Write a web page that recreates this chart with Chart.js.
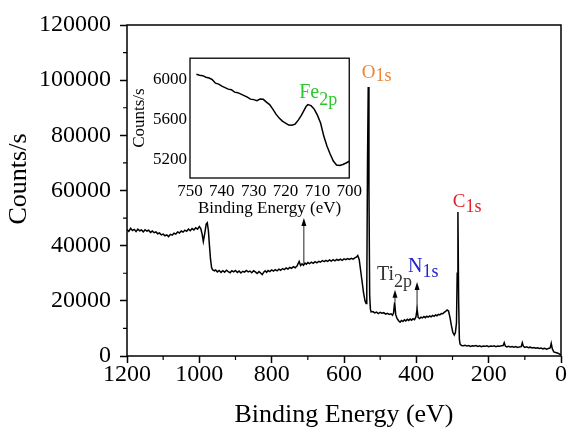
<!DOCTYPE html>
<html><head><meta charset="utf-8">
<script src="https://cdn.jsdelivr.net/npm/chart.js@4.4.1/dist/chart.umd.min.js"></script>
<style>
html,body{margin:0;padding:0;background:#fff;}
#wrap{position:relative;width:571px;height:431px;overflow:hidden;}
#main{position:absolute;left:0;top:0;}
#inset{position:absolute;left:120px;top:45px;}
</style></head>
<body>
<div id="wrap">
<canvas id="main" width="571" height="431"></canvas>
<canvas id="inset" width="245" height="180"></canvas>
</div>
<script>
// ---------- DATA ----------
const beMain = [1200,1195,1190,1185,1180,1175,1170,1165,1160,1155,1150,1145,1140,1135,1130,1125,1120,1115,1110,1105,1100,1095,1090,1085,1080,1075,1070,1065,1060,1055,1050,1045,1040,1035,1030,1025,1020,1015,1010,1005,1000,996,992,989,985,981,978,975,972,969,966,963,958,955,950,945,940,935,930,925,920,915,910,905,900,895,890,885,880,875,870,865,860,855,850,845,840,835,830,826,822,818,814,810,805,800,795,790,785,780,775,770,765,760,755,750,745,740,735,730,724,720,716,712,708,704,700,695,690,685,680,675,670,665,660,655,650,645,640,635,630,625,620,615,610,605,600,595,590,585,580,575,570,565,562,558,554,550,546,542,539,537,535,533,531,529,527,525,520,515,510,505,500,495,490,485,480,475,470,466,463,460,457,453,449,445,441,437,433,429,425,421,417,413,409,405,401,398,395,391,387,383,379,375,371,367,363,359,355,351,347,343,339,335,331,327,323,319,315,311,307,303,299,295,292,289,287,285,283,281,279,275,270,265,260,255,250,245,240,235,230,225,220,215,210,205,200,195,190,185,180,175,170,165,160,157,154,150,145,140,135,130,125,120,115,110,107,104,100,95,90,85,80,75,70,65,60,55,50,45,40,35,30,27,24,20,15,10,5,0];
const cpsMain = [45800,45200,46300,45500,45900,45100,46000,45400,45700,45000,45800,45300,45600,44800,45300,44700,45000,44300,44600,43900,44200,43600,43900,43300,44100,43800,44500,44200,45000,44600,45300,44900,45600,45200,46000,45400,46200,45700,46500,46000,46900,46200,44000,41500,44500,47800,48300,45500,40000,35000,32000,31200,30900,31200,30500,31000,30300,30900,30400,31100,30600,30200,30900,30500,31000,30300,30800,30100,30700,30400,31000,30500,30800,30200,30900,30500,29900,30600,30000,29500,30400,30900,30300,31000,30600,31200,30800,31300,30900,31500,31100,31700,31300,31900,31500,32100,31800,32400,32000,32600,34300,32800,33400,32900,33700,33300,33900,33500,34000,33600,34200,33800,34300,34000,34600,34200,34700,34300,34800,34400,34900,34500,35000,34700,35100,34700,35200,34900,35300,35000,35400,35100,35600,35900,36400,35000,31000,27000,23000,20000,19000,24000,70000,97500,60000,22000,17000,16000,16100,15600,15900,15400,15800,15500,15700,15200,15500,15100,15300,14800,15600,19500,15000,13500,12800,12300,12900,12500,13100,12700,13300,12900,13400,13000,13500,13200,14200,17000,14000,13600,14100,13800,14300,13900,14400,14100,14500,14200,14700,14400,14900,14600,15100,14900,15400,15300,15800,16200,16700,16300,14000,11000,8500,7600,8500,12000,30000,52200,20000,6000,4300,3800,3700,3900,3600,3800,3500,3700,3600,3800,3500,3700,3400,3600,3500,3700,3400,3600,3500,3700,3400,3600,3500,3700,3800,4800,3600,3300,3500,3300,3400,3200,3400,3100,3300,3400,4800,3500,3100,3300,3000,3200,2900,3100,2800,3000,2700,2900,2600,2800,2500,2700,2900,4600,2600,1500,1300,1100,800,400];

const beInset = [748,747,746,745,744,743,742,741,740,739,738,737,736,735,734,733,732,731,730,729,728,727,726,725,724,723,722,721,720,719,718,717,716,715,714,713.5,713,712,711,710,709,708,707,706,705,704,703,702,701,700];
const cpsInset = [6050,6040,6035,6020,6012,5995,5960,5950,5930,5915,5900,5895,5870,5865,5850,5835,5820,5800,5795,5785,5800,5798,5770,5745,5700,5650,5610,5580,5560,5540,5538,5550,5590,5640,5700,5730,5745,5735,5700,5640,5560,5430,5330,5250,5180,5140,5135,5145,5160,5178];

const xTicksMain = [1200,1000,800,600,400,200,0];
const yTicksMain = [0,20000,40000,60000,80000,100000,120000];
const xMinorMain = [1100,900,700,500,300,100];
const yMinorMain = [10000,30000,50000,70000,90000,110000];
const xTicksInset = [750,740,730,720,710,700];
const yTicksInset = [5200,5600,6000];

// peak labels: text, subscript, anchor energy, anchor counts
const peakText = ['O','C','N','Ti'];
const peakSub = ['1s','1s','1s','2p'];
const peakBE = [551,299,423,509];
const peakCps = [100800,54000,30450,27550];
// arrows: energy, from counts, to counts
const arrowBE = [711,459,398];
const arrowFrom = [33500,19500,17000];
const arrowTo = [50000,24000,26800];
// inset label
const insetText = 'Fe', insetSub = '2p', insetBE = 715.7, insetCps = 5814;

// ---------- STYLES ----------
const FONT = '"Liberation Serif", "Times New Roman", serif';
const peakStyle = [
  {color:'#EE8533', size:19, subSize:18, dy:3},
  {color:'#E51F28', size:19, subSize:18, dy:5},
  {color:'#2324D0', size:20, subSize:18, dy:5},
  {color:'#333333', size:20, subSize:18, dy:7}
];

function fmt(v){ return String(v); }

const mainDecor = {
  id:'mainDecor',
  afterDraw(chart){
    const {ctx, chartArea:a, scales:{x,y}} = chart;
    ctx.save();
    ctx.strokeStyle='#000'; ctx.lineWidth=1.5;
    ctx.strokeRect(a.left, a.top, a.right-a.left, a.bottom-a.top);
    ctx.lineWidth=1.2;
    ctx.beginPath();
    xMinorMain.forEach(v=>{const p=x.getPixelForValue(v); ctx.moveTo(p,a.bottom); ctx.lineTo(p,a.bottom+4);});
    yMinorMain.forEach(v=>{const p=y.getPixelForValue(v); ctx.moveTo(a.left,p); ctx.lineTo(a.left-4,p);});
    ctx.stroke();
    arrowBE.forEach((be,i)=>{
      const px=x.getPixelForValue(be), y0=y.getPixelForValue(arrowFrom[i]), y1=y.getPixelForValue(arrowTo[i]);
      ctx.strokeStyle='#222'; ctx.lineWidth=1;
      ctx.beginPath(); ctx.moveTo(px,y0); ctx.lineTo(px,y1+5); ctx.stroke();
      ctx.fillStyle='#000';
      ctx.beginPath(); ctx.moveTo(px,y1); ctx.lineTo(px-2.5,y1+8); ctx.lineTo(px+2.5,y1+8); ctx.closePath(); ctx.fill();
    });
    ctx.textBaseline='alphabetic'; ctx.textAlign='left';
    peakText.forEach((t,i)=>{
      const s=peakStyle[i];
      const px=x.getPixelForValue(peakBE[i]), py=y.getPixelForValue(peakCps[i]);
      ctx.fillStyle=s.color;
      ctx.font=s.size+'px '+FONT;
      ctx.fillText(t,px,py);
      const w=ctx.measureText(t).width;
      ctx.font=s.subSize+'px '+FONT;
      ctx.fillText(peakSub[i],px+w,py+s.dy);
    });
    ctx.save();
    ctx.fillStyle='#000'; ctx.font='26px '+FONT; ctx.textAlign='center'; ctx.textBaseline='middle';
    ctx.translate(19, 179); ctx.rotate(-Math.PI/2);
    ctx.fillText('Counts/s',0,0);
    ctx.restore();
    ctx.restore();
  }
};

new Chart(document.getElementById('main'), {
  type:'line',
  data:{datasets:[{data: beMain.map((v,i)=>({x:v,y:cpsMain[i]})), borderColor:'#000', borderWidth:1.5, pointRadius:0, tension:0, fill:false}]},
  options:{
    responsive:false, animation:false, devicePixelRatio:1,
    layout:{padding:{left:0,right:10,top:25,bottom:0}},
    plugins:{legend:{display:false}, tooltip:{enabled:false}},
    scales:{
      x:{type:'linear', reverse:true, min:0, max:1200,
        afterBuildTicks:s=>{s.ticks=xTicksMain.map(v=>({value:v}));},
        afterFit:s=>{s.height=75;},
        grid:{display:true, drawOnChartArea:false, drawTicks:true, tickLength:7, tickColor:'#000', tickWidth:1.5},
        border:{display:false},
        ticks:{color:'#000', font:{family:FONT, size:24}, padding:-3, maxRotation:0, autoSkip:false, callback:fmt},
        title:{display:true, text:'Binding Energy (eV)', color:'#000', font:{family:FONT, size:26}, padding:{top:0,bottom:0}}
      },
      y:{type:'linear', min:0, max:120000,
        afterBuildTicks:s=>{s.ticks=yTicksMain.map(v=>({value:v}));},
        afterFit:s=>{s.width=127;},
        grid:{display:true, drawOnChartArea:false, drawTicks:true, tickLength:7, tickColor:'#000', tickWidth:1.5},
        border:{display:false},
        ticks:{color:'#000', font:{family:FONT, size:24}, padding:9, autoSkip:false, callback:fmt},
        title:{display:false}
      }
    }
  },
  plugins:[mainDecor]
});

const insetDecor = {
  id:'insetDecor',
  beforeDatasetsDraw(chart){
    const {ctx, chartArea:a} = chart;
    ctx.save(); ctx.fillStyle='#fff'; ctx.fillRect(a.left,a.top,a.right-a.left,a.bottom-a.top); ctx.restore();
  },
  afterDraw(chart){
    const {ctx, chartArea:a, scales:{x,y}} = chart;
    ctx.save();
    ctx.strokeStyle='#000'; ctx.lineWidth=1.3;
    ctx.strokeRect(a.left,a.top,a.right-a.left,a.bottom-a.top);
    const px=x.getPixelForValue(insetBE), py=y.getPixelForValue(insetCps);
    ctx.fillStyle='#2BC72B'; ctx.textBaseline='alphabetic'; ctx.textAlign='left';
    ctx.font='20px '+FONT; ctx.fillText(insetText,px,py);
    const w=ctx.measureText(insetText).width;
    ctx.font='18px '+FONT; ctx.fillText(insetSub,px+w,py+7);
    ctx.restore();
  }
};

new Chart(document.getElementById('inset'), {
  type:'line',
  data:{datasets:[{data: beInset.map((v,i)=>({x:v,y:cpsInset[i]})), borderColor:'#000', borderWidth:1.5, pointRadius:0, tension:0, fill:false}]},
  options:{
    responsive:false, animation:false, devicePixelRatio:1,
    layout:{padding:{left:0,right:13,top:12,bottom:0}},
    plugins:{legend:{display:false}, tooltip:{enabled:false}},
    scales:{
      x:{type:'linear', reverse:true, min:700, max:750,
        afterBuildTicks:s=>{s.ticks=xTicksInset.map(v=>({value:v}));},
        afterFit:s=>{s.height=47;},
        grid:{display:false, drawTicks:false},
        border:{display:false},
        ticks:{color:'#000', font:{family:FONT, size:17}, padding:3, maxRotation:0, autoSkip:false, callback:fmt},
        title:{display:true, text:'Binding Energy (eV)', color:'#000', font:{family:FONT, size:17}, padding:{top:0,bottom:6}}
      },
      y:{type:'linear', min:5010, max:6210,
        afterBuildTicks:s=>{s.ticks=yTicksInset.map(v=>({value:v}));},
        afterFit:s=>{s.width=70;},
        grid:{display:false, drawTicks:false},
        border:{display:false},
        ticks:{color:'#000', font:{family:FONT, size:17}, padding:3, autoSkip:false, callback:fmt},
        title:{display:true, text:'Counts/s', color:'#000', font:{family:FONT, size:17}, padding:{top:9,bottom:0}}
      }
    }
  },
  plugins:[insetDecor]
});
</script>
</body></html>
